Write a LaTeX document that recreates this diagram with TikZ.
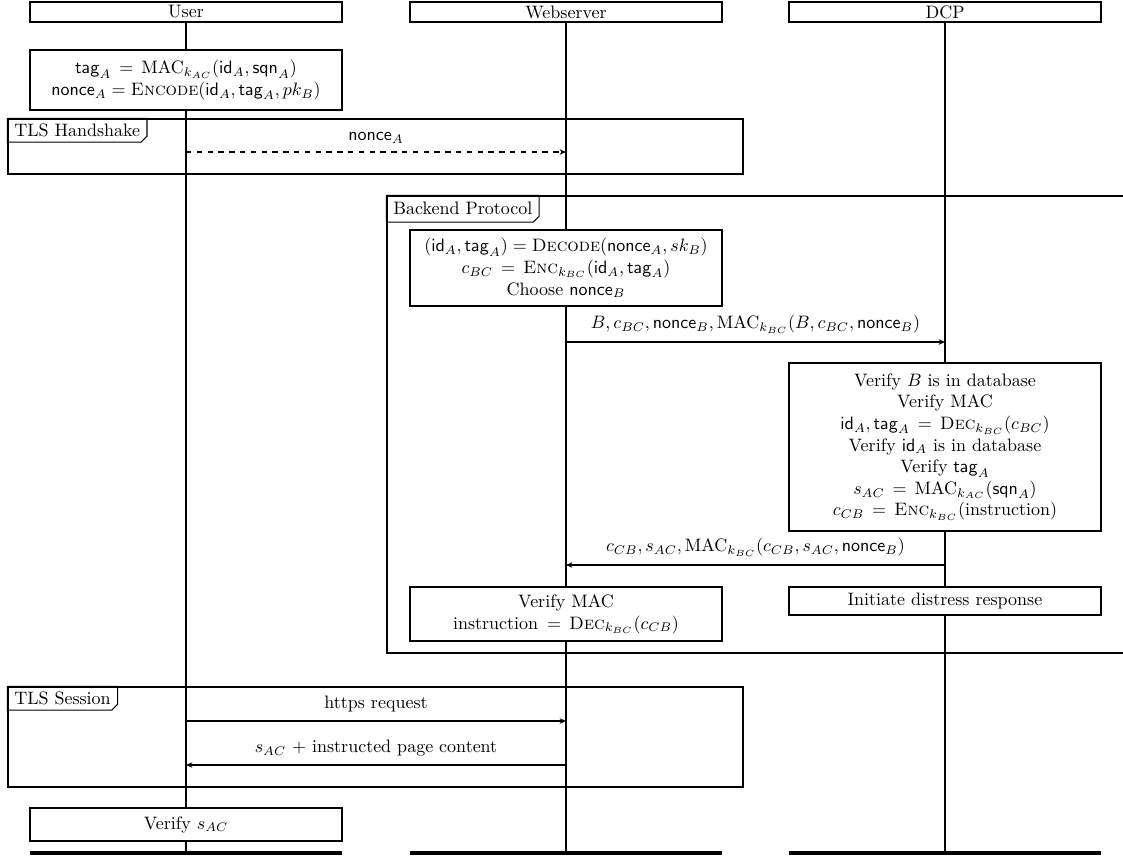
\documentclass[tikz,border=0pt]{standalone}
\usepackage{amsmath}
\usetikzlibrary{arrows.meta,calc}
\def\pxl{0.5556pt}
\newcommand{\fsc}[1]{\text{\textsc{#1}}}
\begin{document}
\begin{tikzpicture}[x=0.5556pt,y=-0.5556pt,
  thinln/.style={line width=0.6pt},
  actor/.style={draw,thinln,fill=white,inner sep=0pt,minimum width={312*\pxl},align=center},
  frame/.style={draw,thinln,inner sep=0pt},
  tablabel/.style={inner xsep=3.6pt,inner ysep=0pt,minimum height={23*\pxl},anchor=north west},
  lifeU/.style={line width=1.1pt},
  lifeO/.style={line width=0.6pt},
  endbar/.style={fill=black,inner sep=0pt,minimum width={312*\pxl},minimum height={4*\pxl}},
  msg/.style={thinln,-{Stealth[length=3.5pt,width=3pt,inset=1pt]}},
  msglabel/.style={above,inner sep=4.5pt}
]
\useasboundingbox (0,0) rectangle (1123,855);

% combined fragments
\node[frame,minimum width={735*\pxl},minimum height={55*\pxl}] (fHS) at (375.5,146.5) {};
\node[tablabel] (tHS) at (fHS.north west) {TLS Handshake};
\draw[thinln] (tHS.south west) -- (tHS.north west) -- (tHS.north east)
  -- ($(tHS.south east)+(0,-6)$) -- ($(tHS.south east)+(-6,0)$) -- cycle;

\node[frame,minimum width={760*\pxl},minimum height={457*\pxl}] (fBP) at (767,424.5) {};
\node[tablabel,minimum height={26*\pxl}] (tBP) at (fBP.north west) {Backend Protocol};
\draw[thinln] (tBP.south west) -- (tBP.north west) -- (tBP.north east)
  -- ($(tBP.south east)+(0,-6)$) -- ($(tBP.south east)+(-6,0)$) -- cycle;

\node[frame,minimum width={735*\pxl},minimum height={100*\pxl}] (fTS) at (375.5,737) {};
\node[tablabel] (tTS) at (fTS.north west) {TLS Session};
\draw[thinln] (tTS.south west) -- (tTS.north west) -- (tTS.north east)
  -- ($(tTS.south east)+(0,-6)$) -- ($(tTS.south east)+(-6,0)$) -- cycle;

% participants and their ends
\node[actor,minimum height={20*\pxl}] (hU) at (186,12) {User};
\node[actor,minimum height={20*\pxl}] (hW) at (566,12) {Webserver};
\node[actor,minimum height={20*\pxl}] (hD) at (945,12) {DCP};
\node[endbar] (zU) at (186,853) {};
\node[endbar] (zW) at (566,853) {};
\node[endbar] (zD) at (945,853) {};

% lifelines
\draw[lifeU] (hU.south) -- (zU.north);
\draw[lifeO] (hW.south) -- (zW.north);
\draw[lifeO] (hD.south) -- (zD.north);

% activity boxes
\node[actor,minimum height={60*\pxl}] (bEnc) at (186,80)
  {$\mathsf{tag}_A \,=\, \mathrm{MAC}_{k_{AC}}(\mathsf{id}_A,\mathsf{sqn}_A)$\\
   $\mathsf{nonce}_A = \fsc{Encode}(\mathsf{id}_A,\mathsf{tag}_A,pk_B)$};
\node[actor,minimum height={76*\pxl}] (bDec) at (566,268)
  {$(\mathsf{id}_A,\mathsf{tag}_A) = \fsc{Decode}(\mathsf{nonce}_A,sk_B)$\\
   $c_{BC} \,=\, \fsc{Enc}_{k_{BC}}(\mathsf{id}_A,\mathsf{tag}_A)$\\
   Choose $\mathsf{nonce}_B$};
\node[actor,minimum height={168*\pxl}] (bVer) at (945,447)
  {Verify $B$ is in database\\
   Verify MAC\\
   $\mathsf{id}_A,\mathsf{tag}_A \,=\, \fsc{Dec}_{k_{BC}}(c_{BC})$\\
   Verify $\mathsf{id}_A$ is in database\\
   Verify $\mathsf{tag}_A$\\
   $s_{AC} \,=\, \mathrm{MAC}_{k_{AC}}(\mathsf{sqn}_A)$\\
   $c_{CB} \,=\, \fsc{Enc}_{k_{BC}}(\text{instruction})$};
\node[actor,minimum height={54*\pxl}] (bMac) at (566,614)
  {Verify MAC\\ instruction $\,=\, \fsc{Dec}_{k_{BC}}(c_{CB})$};
\node[actor,minimum height={28*\pxl}] (bDis) at (945,601) {Initiate distress response};
\node[actor,minimum height={33*\pxl}] (bSac) at (186,824.5) {Verify $s_{AC}$};

% message end points on the lifelines
\coordinate (m1a) at (186,152); \coordinate (m1b) at (566,152);
\coordinate (m2a) at (566,342); \coordinate (m2b) at (945,342);
\coordinate (m3a) at (945,565); \coordinate (m3b) at (566,565);
\coordinate (m4a) at (186,721); \coordinate (m4b) at (566,721);
\coordinate (m5a) at (566,765); \coordinate (m5b) at (186,765);

% messages
\draw[msg,dashed] (m1a) -- node[msglabel] {$\mathsf{nonce}_A$} (m1b);
\draw[msg] (m2a) -- node[msglabel]
  {$B, c_{BC}, \mathsf{nonce}_B, \mathrm{MAC}_{k_{BC}}(B, c_{BC}, \mathsf{nonce}_B)$} (m2b);
\draw[msg] (m3a) -- node[msglabel]
  {$c_{CB}, s_{AC}, \mathrm{MAC}_{k_{BC}}(c_{CB}, s_{AC}, \mathsf{nonce}_B)$} (m3b);
\draw[msg] (m4a) -- node[msglabel] {https request} (m4b);
\draw[msg] (m5a) -- node[msglabel] {$s_{AC}$ + instructed page content} (m5b);
\end{tikzpicture}
\end{document}
